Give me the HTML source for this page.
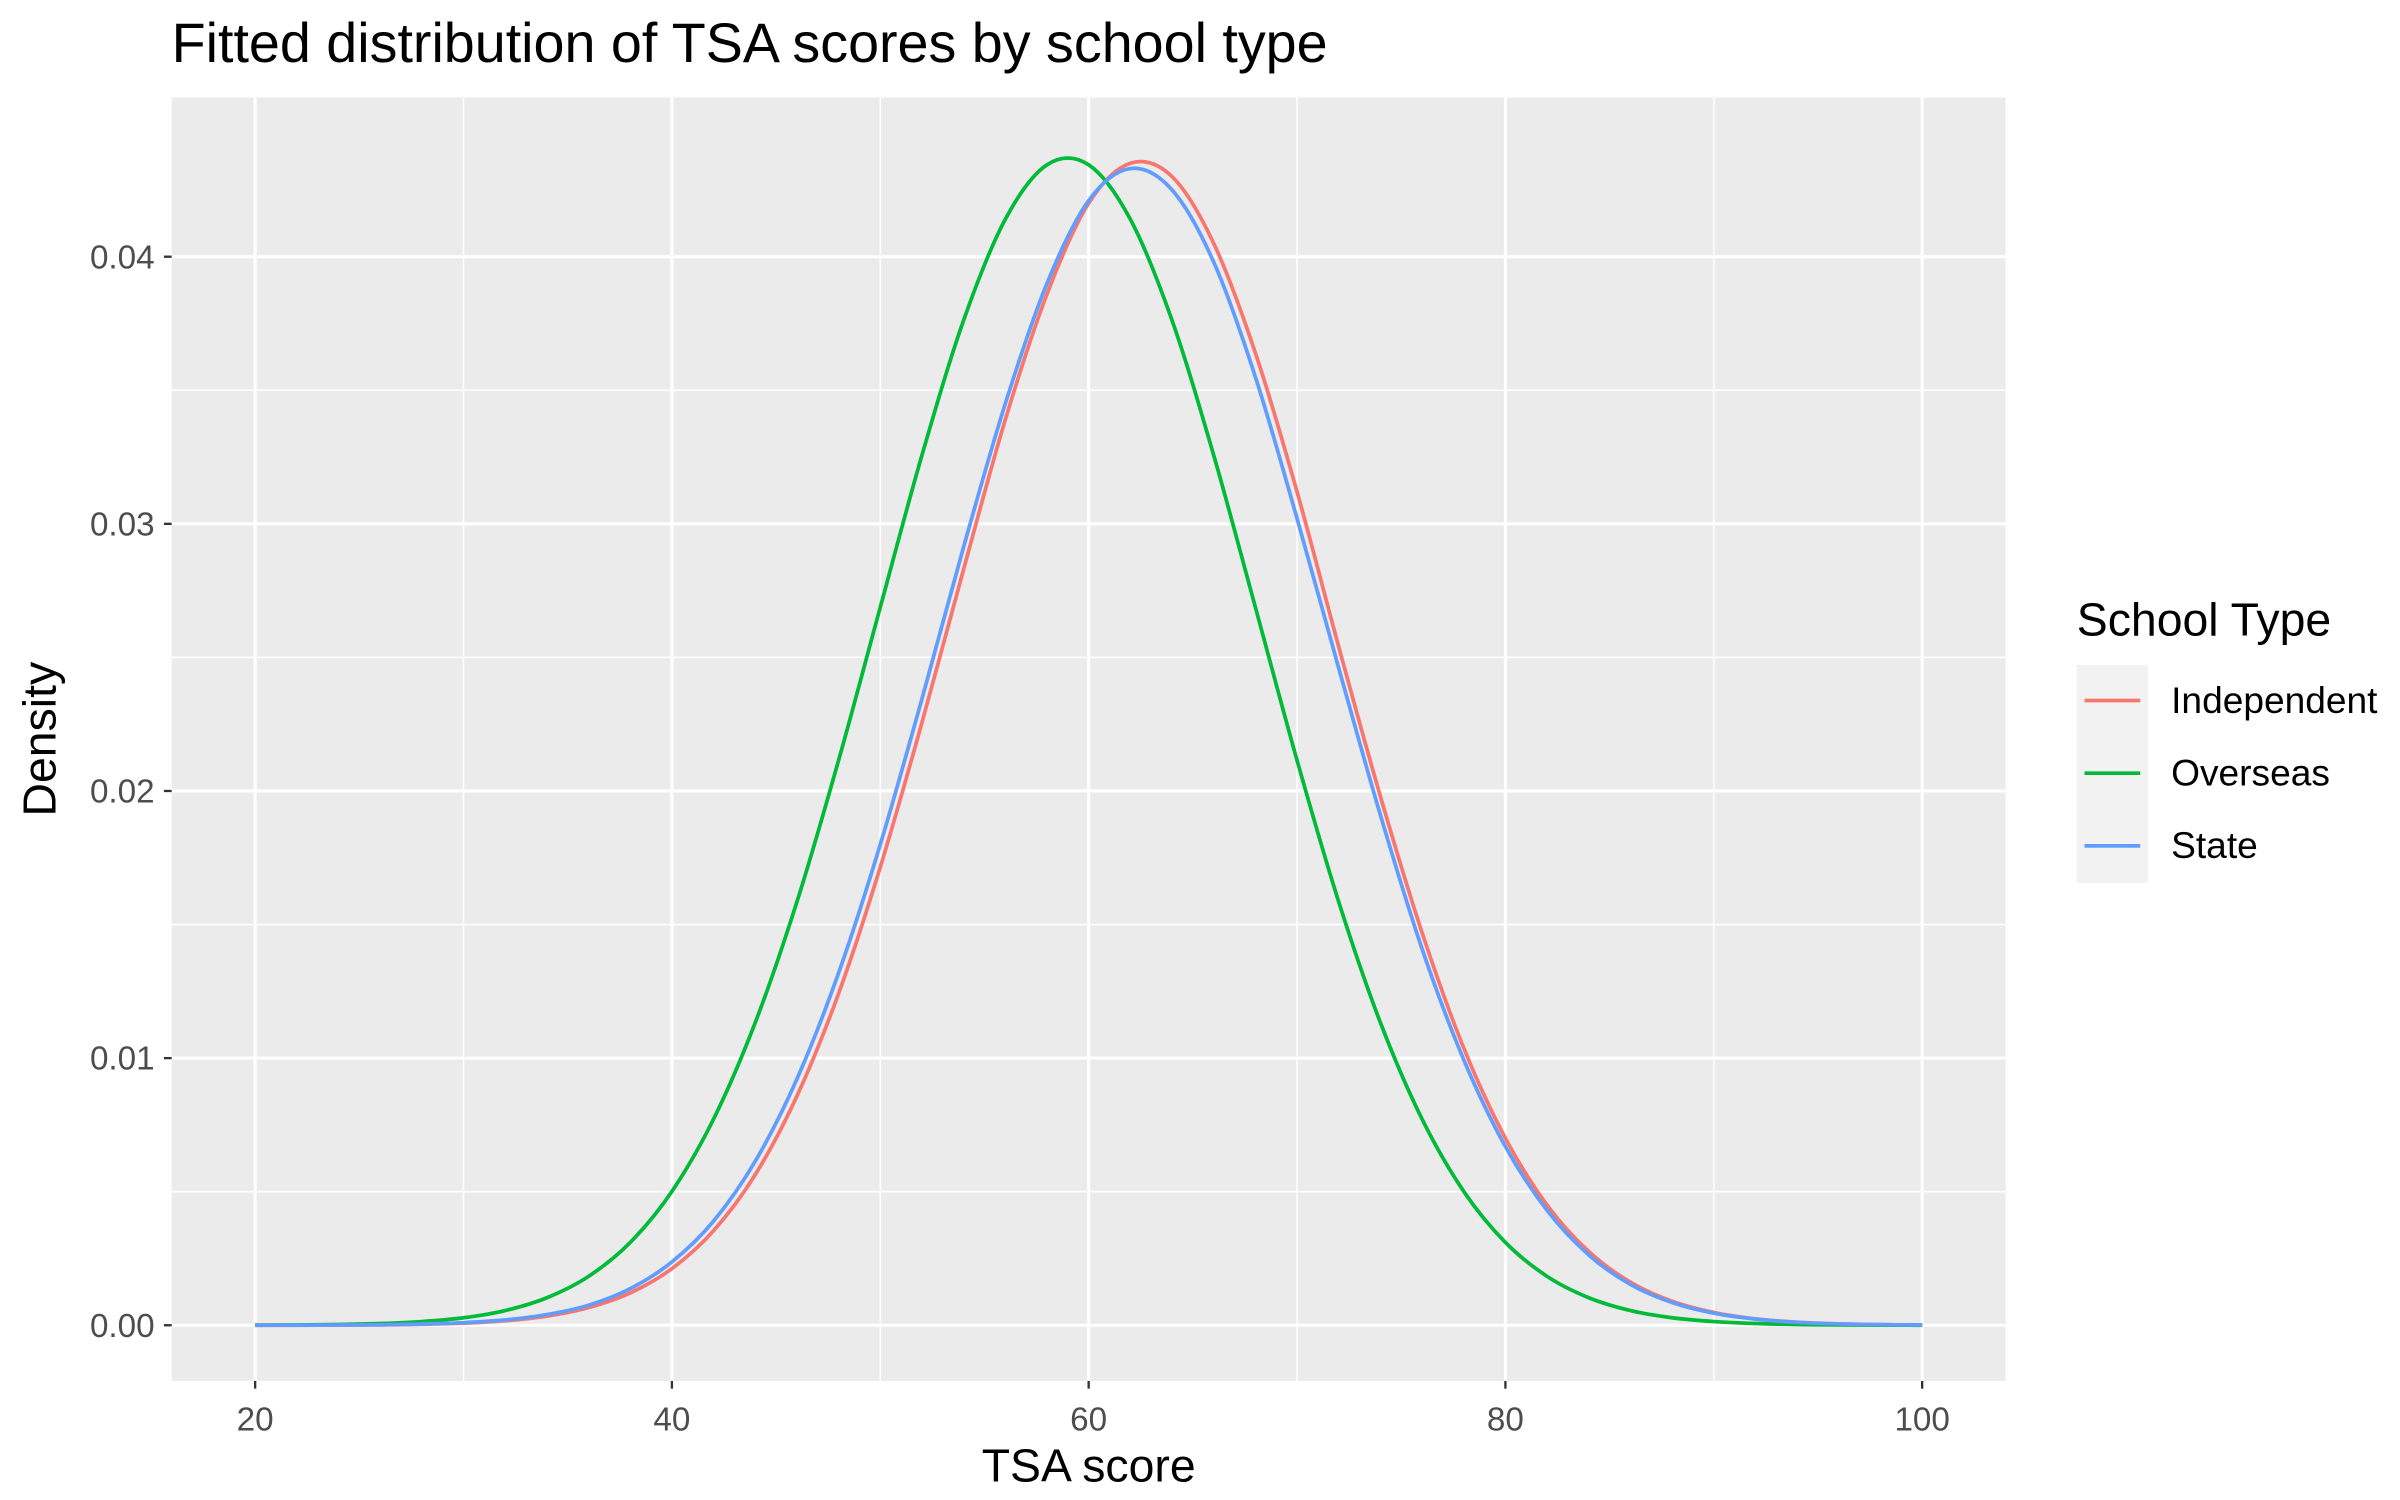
<!DOCTYPE html>
<html><head><meta charset="utf-8"><style>
html,body{margin:0;padding:0;background:#fff;}
svg{display:block;font-family:"Liberation Sans",Arial,sans-serif;}
</style></head><body>
<svg id="chart" width="2400" height="1500" viewBox="0 0 1552 970" preserveAspectRatio="none" xmlns="http://www.w3.org/2000/svg">
<rect width="1552" height="970" fill="#fff"/>
<text x="111" y="40" font-size="36" fill="#000">Fitted distribution of TSA scores by school type</text>
<rect x="111" y="63" width="1186" height="830" fill="#EBEBEB"/>
<g id="grid"></g>
<g id="axes"></g>
<g id="series"></g>
<text x="704" y="958" font-size="30" text-anchor="middle" fill="#000">TSA score</text>
<text transform="translate(36,478) rotate(-90)" font-size="30" text-anchor="middle" fill="#000">Density</text>
<g>
<text x="1343" y="411" font-size="30" fill="#000">School Type</text>
<rect x="1343" y="430" width="46" height="141" fill="#F2F2F2"/>
<line x1="1348" x2="1384" y1="453" y2="453" stroke="#F8766D" stroke-width="2.4"/>
<line x1="1348" x2="1384" y1="500" y2="500" stroke="#00BA38" stroke-width="2.4"/>
<line x1="1348" x2="1384" y1="547" y2="547" stroke="#619CFF" stroke-width="2.4"/>
<text x="1404" y="461" font-size="24" fill="#000">Independent</text>
<text x="1404" y="508" font-size="24" fill="#000">Overseas</text>
<text x="1404" y="555" font-size="24" fill="#000">State</text>
</g>
</svg>
<script>
const xValues=[20,22,24,26,28,30,32,34,36,38,40,42,44,46,48,50,52,54,56,58,60,62,64,66,68,70,72,74,76,78,80,82,84,86,88,90,92,94,96,98,100];
const independentValues=[0.000001,0.000002,0.000006,0.000015,0.000036,0.000079,0.000168,0.00034,0.00066,0.00121,0.00212,0.00354,0.00564,0.00858,0.01242,0.01715,0.02256,0.0283,0.0339,0.0386,0.0420,0.0435,0.0430,0.0405,0.0364,0.0312,0.0254,0.0198,0.0147,0.01038,0.0070,0.0045,0.00276,0.00161,0.00090,0.00048,0.00024,0.000116,0.000054,0.000023,0.00001];
const overseasValues=[0.000005,0.000012,0.000028,0.000064,0.000138,0.00028,0.00055,0.00103,0.00183,0.0031,0.00501,0.00772,0.01133,0.01585,0.02115,0.02688,0.03257,0.03762,0.0414,0.04344,0.04344,0.0414,0.03762,0.03257,0.02688,0.02115,0.01585,0.01133,0.00772,0.00501,0.0031,0.00183,0.00103,0.00055,0.00028,0.000138,0.000064,0.000028,0.000012,0.000005,0.000002];
const stateValues=[0.000001,0.000003,0.000008,0.000019,0.000044,0.000096,0.0002,0.0004,0.00075,0.00137,0.00237,0.0039,0.00614,0.00922,0.01319,0.0180,0.02345,0.02914,0.0345,0.0390,0.0421,0.0433,0.0425,0.0398,0.0355,0.0302,0.0246,0.0191,0.01409,0.00994,0.00669,0.0043,0.00263,0.00153,0.00085,0.00045,0.00023,0.00011,0.00005,0.000023,0.00001];
const xTicks=[20,40,60,80,100];
const xMinor=[30,50,70,90];
const yTicks=[0,0.01,0.02,0.03,0.04];
const yTickLabels=["0.00","0.01","0.02","0.03","0.04"];
const yMinor=[0.005,0.015,0.025,0.035];

const NS="http://www.w3.org/2000/svg";
function xs(v){return 165+(v-20)*(1078/80);}
function ys(v){return 857-v*(691/0.04);}
function mk(tag,attrs,parent){const e=document.createElementNS(NS,tag);for(const k in attrs)e.setAttribute(k,attrs[k]);parent.appendChild(e);return e;}
const grid=document.getElementById('grid'),axes=document.getElementById('axes'),series=document.getElementById('series');
xMinor.forEach(v=>{const l=mk('line',{x1:xs(v),x2:xs(v),y1:63,y2:893,stroke:'#fff','stroke-width':1},grid);

});
yMinor.forEach(v=>{const l=mk('line',{x1:111,x2:1297,y1:ys(v),y2:ys(v),stroke:'#fff','stroke-width':1},grid);

});
xTicks.forEach(v=>{const l=mk('line',{x1:xs(v),x2:xs(v),y1:63,y2:893,stroke:'#fff','stroke-width':2},grid);


const t=mk('line',{x1:xs(v),x2:xs(v),y1:893,y2:898,stroke:'#333','stroke-width':1.5},axes);


const tx=mk('text',{x:xs(v),y:925,'font-size':21.5,'text-anchor':'middle',fill:'#4D4D4D'},axes);
tx.textContent=v;

});
yTicks.forEach((v,i)=>{const l=mk('line',{x1:111,x2:1297,y1:ys(v),y2:ys(v),stroke:'#fff','stroke-width':2},grid);


const t=mk('line',{x1:106,x2:111,y1:ys(v),y2:ys(v),stroke:'#333','stroke-width':1.5},axes);


const tx=mk('text',{x:100,y:ys(v)+7.5,'font-size':21.5,'text-anchor':'end',fill:'#4D4D4D'},axes);
tx.textContent=yTickLabels[i];

});
function drawLine(vals,color,name){
const P=vals.map((v,i)=>[xs(xValues[i]),ys(v)]);
let d='M'+P[0][0].toFixed(2)+','+P[0][1].toFixed(2);
for(let i=0;i<P.length-1;i++){
const p0=P[Math.max(0,i-1)],p1=P[i],p2=P[i+1],p3=P[Math.min(P.length-1,i+2)];
const c1x=p1[0]+(p2[0]-p0[0])/6,c1y=p1[1]+(p2[1]-p0[1])/6;
const c2x=p2[0]-(p3[0]-p1[0])/6,c2y=p2[1]-(p3[1]-p1[1])/6;
d+=' C'+c1x.toFixed(2)+','+c1y.toFixed(2)+' '+c2x.toFixed(2)+','+c2y.toFixed(2)+' '+p2[0].toFixed(2)+','+p2[1].toFixed(2);}
const p=mk('path',{d:d,fill:'none',stroke:color,'stroke-width':2.4,'stroke-linejoin':'round'},series);

}
drawLine(independentValues,'#F8766D','independent-line');
drawLine(overseasValues,'#00BA38','overseas-line');
drawLine(stateValues,'#619CFF','state-line');
</script>
</body></html>
